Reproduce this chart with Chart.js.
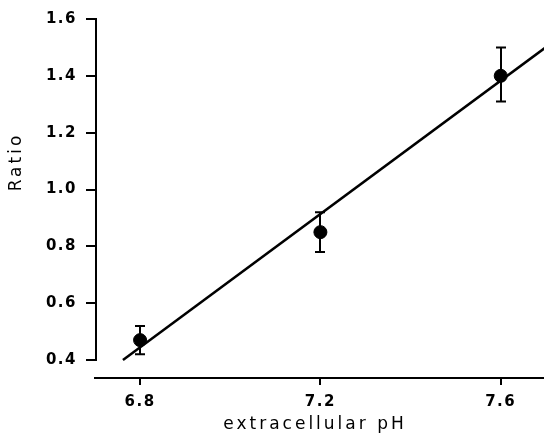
<!DOCTYPE html>
<html>
<head>
<meta charset="utf-8">
<script src="https://cdn.jsdelivr.net/npm/chart.js@4.4.0/dist/chart.umd.min.js"></script>
<style>
  html, body { margin: 0; padding: 0; background: #fff; overflow: hidden; }
</style>
</head>
<body>
<canvas id="ph-chart" width="544" height="437"></canvas>
<script>
  // measured points
  const phValues = [6.8, 7.2, 7.6];
  const ratioMean = [0.47, 0.85, 1.40];
  const ratioLow = [0.42, 0.78, 1.31];
  const ratioHigh = [0.52, 0.92, 1.50];

  // regression line end points
  const fitX = [6.762, 7.72];
  const fitY = [0.4, 1.524];

  const xTicks = [6.8, 7.2, 7.6];
  const yTicks = [0.4, 0.6, 0.8, 1.0, 1.2, 1.4, 1.6];

  const tickFont = { family: "'DejaVu Sans', sans-serif", size: 15, weight: "bold" };

  // error bars + y axis line + axis titles
  const extras = {
    id: "extras",
    beforeDraw(chart) {
      chart.ctx.letterSpacing = "1.5px";
    },
    afterDatasetsDraw(chart) {
      const { ctx, scales } = chart;
      const x = scales.x, y = scales.y;
      ctx.save();
      ctx.strokeStyle = "#000";
      ctx.lineWidth = 2;
      phValues.forEach((v, i) => {
        const px = Math.round(x.getPixelForValue(v));
        const top = y.getPixelForValue(ratioHigh[i]);
        const bot = y.getPixelForValue(ratioLow[i]);
        ctx.beginPath();
        ctx.moveTo(px, top); ctx.lineTo(px, bot);
        ctx.moveTo(px - 5, top); ctx.lineTo(px + 5, top);
        ctx.moveTo(px - 5, bot); ctx.lineTo(px + 5, bot);
        ctx.stroke();
      });
      ctx.restore();
    },
    afterDraw(chart) {
      const { ctx, scales, chartArea } = chart;
      const y = scales.y;
      ctx.save();
      ctx.strokeStyle = "#000";
      ctx.lineWidth = 2;
      ctx.beginPath();
      ctx.moveTo(chartArea.left + 1, y.getPixelForValue(1.6) - 1);
      ctx.lineTo(chartArea.left + 1, y.getPixelForValue(0.4) + 1);
      ctx.stroke();

      ctx.fillStyle = "#000";
      ctx.font = "17px 'DejaVu Sans', sans-serif";
      ctx.letterSpacing = "3px";
      ctx.textAlign = "center";
      ctx.textBaseline = "middle";
      ctx.fillText("extracellular pH", 315, 425);

      ctx.translate(17, 162);
      ctx.rotate(-Math.PI / 2);
      ctx.fillText("Ratio", 0, 0);
      ctx.restore();
    }
  };

  new Chart(document.getElementById("ph-chart"), {
    data: {
      datasets: [
        {
          type: "line",
          data: fitX.map((v, i) => ({ x: v, y: fitY[i] })),
          borderColor: "#000",
          borderWidth: 2.5,
          pointRadius: 0,
          fill: false,
        },
        {
          type: "scatter",
          data: phValues.map((v, i) => ({ x: v, y: ratioMean[i] })),
          backgroundColor: "#000",
          borderColor: "#000",
          pointRadius: 6.5,
        },
      ],
    },
    options: {
      responsive: false,
      devicePixelRatio: 1,
      animation: false,
      layout: { autoPadding: false, padding: { top: 19, right: 0, left: 0, bottom: 0 } },
      plugins: { legend: { display: false }, tooltip: { enabled: false } },
      scales: {
        x: {
          type: "linear",
          min: 6.7,
          max: 7.696,
          afterBuildTicks: (s) => { s.ticks = xTicks.map((v) => ({ value: v })); },
          afterFit: (s) => { s.height = 59; s.paddingLeft = 0; s.paddingRight = 0; },
          border: { display: true, color: "#000", width: 2 },
          grid: { drawOnChartArea: false, tickLength: 7, color: "#000", lineWidth: 2 },
          ticks: { color: "#000", font: tickFont, padding: 8, callback: (v) => v.toFixed(1) },
        },
        y: {
          type: "linear",
          min: 0.3367,
          max: 1.6,
          afterBuildTicks: (s) => { s.ticks = yTicks.map((v) => ({ value: v })); },
          afterFit: (s) => { s.width = 95; s.paddingTop = 0; s.paddingBottom = 0; },
          border: { display: false },
          grid: { drawOnChartArea: false, tickLength: 9, color: "#000", lineWidth: 2 },
          ticks: { color: "#000", font: tickFont, padding: 9, callback: (v) => v.toFixed(1) },
        },
      },
    },
    plugins: [extras],
  });
</script>
</body>
</html>
